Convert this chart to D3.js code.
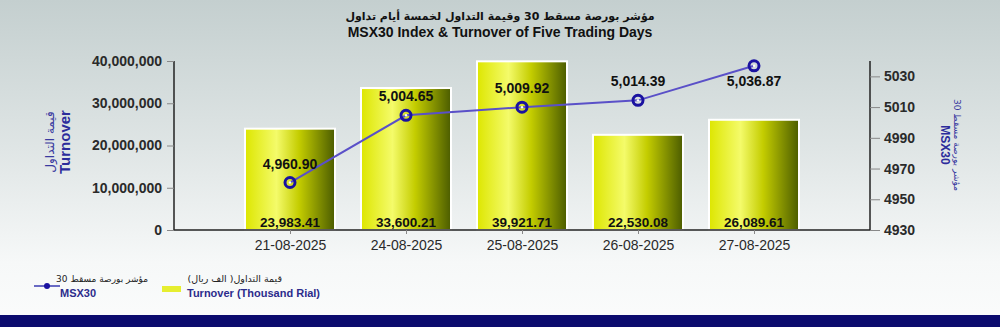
<!DOCTYPE html>
<html>
<head>
<meta charset="utf-8">
<script src="https://cdnjs.cloudflare.com/ajax/libs/d3/7.9.0/d3.min.js"></script>
<style>
  body { margin: 0; }
  svg { display: block; font-family: "Liberation Sans", Arial, sans-serif; }
</style>
</head>
<body>
<script>
// data
const dates = ["21-08-2025", "24-08-2025", "25-08-2025", "26-08-2025", "27-08-2025"];
const turnover = [23983.41, 33600.21, 39921.71, 22530.08, 26089.61]; // thousand rial
const msx30 = [4960.90, 5004.65, 5009.92, 5014.39, 5036.87];
const leftTicks = [0, 10000000, 20000000, 30000000, 40000000];
const rightTicks = [4930, 4950, 4970, 4990, 5010, 5030];

const width = 1000, height = 327;
const plot = { left: 174, right: 870, top: 61, bottom: 230 };

const svg = d3.select("body").append("svg")
  .attr("width", width).attr("height", height);

const defs = svg.append("defs");
const bg = defs.append("linearGradient").attr("id", "bg")
  .attr("x1", 0).attr("y1", 0).attr("x2", 0).attr("y2", 1);
bg.append("stop").attr("offset", "0%").attr("stop-color", "#c4cfcf");
bg.append("stop").attr("offset", "45%").attr("stop-color", "#dfe5e5");
bg.append("stop").attr("offset", "80%").attr("stop-color", "#f6f8f8");
bg.append("stop").attr("offset", "100%").attr("stop-color", "#fbfcfc");

const barGrad = defs.append("linearGradient").attr("id", "bar")
  .attr("x1", 0).attr("y1", 0).attr("x2", 1).attr("y2", 0);
barGrad.append("stop").attr("offset", "0%").attr("stop-color", "#dde600");
barGrad.append("stop").attr("offset", "35%").attr("stop-color", "#f4fb6a");
barGrad.append("stop").attr("offset", "60%").attr("stop-color", "#c4cd00");
barGrad.append("stop").attr("offset", "100%").attr("stop-color", "#4b5c00");

svg.append("rect").attr("width", width).attr("height", height).attr("fill", "url(#bg)");
svg.append("rect").attr("x", 0).attr("y", 315).attr("width", width).attr("height", 12)
  .attr("fill", "#0b0b6e");

// title
svg.append("text").attr("x", 500).attr("y", 20).attr("text-anchor", "middle")
  .attr("font-size", 11).attr("font-weight", "bold").attr("fill", "#111")
  .attr("font-family", "'DejaVu Sans', sans-serif")
  .text("مؤشر بورصة مسقط 30 وقيمة التداول لخمسة أيام تداول");
svg.append("text").attr("x", 500).attr("y", 37).attr("text-anchor", "middle")
  .attr("font-size", 14).attr("font-weight", "bold").attr("fill", "#111")
  .text("MSX30 Index & Turnover of Five Trading Days");

// scales
const x = d3.scalePoint().domain(dates).range([plot.left, plot.right]).padding(1);
const yL = d3.scaleLinear().domain([0, 40000000]).range([plot.bottom, plot.top]);
const yR = d3.scaleLinear().domain([4930, 5040]).range([plot.bottom, plot.top]);
const barW = 90;

// bars
svg.append("g").selectAll("rect").data(turnover).join("rect")
  .attr("x", (d, i) => x(dates[i]) - barW / 2)
  .attr("y", d => yL(d * 1000))
  .attr("width", barW)
  .attr("height", d => plot.bottom - yL(d * 1000))
  .attr("fill", "url(#bar)")
  .attr("stroke", "#ffffff").attr("stroke-width", 2);

svg.append("g").selectAll("text").data(turnover).join("text")
  .attr("x", (d, i) => x(dates[i]))
  .attr("y", plot.bottom - 3)
  .attr("text-anchor", "middle").attr("font-size", 13.5).attr("font-weight", "bold")
  .attr("fill", "#111")
  .text(d => d3.format(",.2f")(d));

// axes
const leftAxis = d3.axisLeft(yL).tickValues(leftTicks).tickFormat(d3.format(",")).tickSize(7).tickPadding(5);
const gl = svg.append("g").attr("transform", `translate(${plot.left},0)`).call(leftAxis);
const rightAxis = d3.axisRight(yR).tickValues(rightTicks).tickFormat(d3.format("d")).tickSize(10).tickPadding(4);
const gr = svg.append("g").attr("transform", `translate(${plot.right},0)`).call(rightAxis);
const gx = svg.append("g").attr("transform", `translate(0,${plot.bottom})`)
  .call(d3.axisBottom(x).tickSize(4).tickPadding(6));
gx.select(".domain").attr("d", `M${plot.left},0H${plot.right}`);

[gl, gr, gx].forEach(g => {
  g.select(".domain").attr("stroke", "#222").attr("stroke-width", 1.5);
  g.selectAll(".tick line").attr("stroke", "#888");
  g.selectAll(".tick text").attr("font-size", 14).attr("font-weight", "bold")
    .attr("fill", "#2a2a2a").attr("font-family", "'Liberation Sans', Arial, sans-serif");
});
gl.select(".domain").attr("d", `M0,${plot.top}V${plot.bottom}`);
gr.select(".domain").attr("d", `M0,${plot.top}V${plot.bottom}`);
gx.selectAll(".tick text").attr("font-weight", "normal").attr("font-size", 14);

// index line
const line = d3.line().x((d, i) => x(dates[i])).y(d => yR(d));
svg.append("path").datum(msx30).attr("d", line)
  .attr("fill", "none").attr("stroke", "#5a50c8").attr("stroke-width", 2);
const pts = svg.append("g").selectAll("g").data(msx30).join("g")
  .attr("transform", (d, i) => `translate(${x(dates[i])},${yR(d)})`);
pts.append("circle").attr("r", 5).attr("fill", "none").attr("stroke", "#1a12a0").attr("stroke-width", 3);
pts.append("circle").attr("r", 1.2).attr("fill", "#ffffff");
pts.append("text")
  .attr("y", d => (yR(d) - 30 < plot.top ? 20 : -14))
  .attr("text-anchor", "middle").attr("font-size", 14).attr("font-weight", "bold")
  .attr("fill", "#111")
  .text(d => d3.format(",.2f")(d));

// axis titles
const lt = svg.append("g").attr("transform", "translate(57,142) rotate(-90)");
lt.append("text").attr("text-anchor", "middle").attr("font-size", 12).attr("fill", "#3a3aa0")
  .attr("font-family", "'DejaVu Sans', sans-serif").attr("y", -3).text("قيمة التداول");
lt.append("text").attr("text-anchor", "middle").attr("font-size", 15).attr("font-weight", "bold")
  .attr("fill", "#2c2c9c").attr("y", 13).text("Turnover");

const rt = svg.append("g").attr("transform", "translate(950,145) rotate(90)");
rt.append("text").attr("text-anchor", "middle").attr("font-size", 9).attr("fill", "#3a3aa0")
  .attr("font-family", "'DejaVu Sans', sans-serif").attr("y", -4).text("مؤشر بورصة مسقط 30");
rt.append("text").attr("text-anchor", "middle").attr("font-size", 12).attr("font-weight", "bold")
  .attr("fill", "#2c2c9c").attr("y", 9).text("MSX30");

// legend
const lg = svg.append("g");
lg.append("line").attr("x1", 34).attr("x2", 60).attr("y1", 286).attr("y2", 286)
  .attr("stroke", "#3a3ab0").attr("stroke-width", 1.5);
lg.append("circle").attr("cx", 47).attr("cy", 286).attr("r", 3).attr("fill", "#1a12a0");
lg.append("text").attr("x", 148).attr("y", 282).attr("text-anchor", "end").attr("font-size", 9)
  .attr("font-family", "'DejaVu Sans', sans-serif").attr("fill", "#222").text("مؤشر بورصة مسقط 30");
lg.append("text").attr("x", 60).attr("y", 297).attr("font-size", 11).attr("font-weight", "bold")
  .attr("fill", "#2c2c8c").text("MSX30");
lg.append("rect").attr("x", 162).attr("y", 286).attr("width", 19).attr("height", 6).attr("fill", "#e6ee30");
lg.append("text").attr("x", 282).attr("y", 282).attr("text-anchor", "end").attr("font-size", 9.5)
  .attr("font-family", "'DejaVu Sans', sans-serif").attr("fill", "#222").text("قيمة التداول( الف ريال)");
lg.append("text").attr("x", 187).attr("y", 297).attr("font-size", 11).attr("font-weight", "bold")
  .attr("fill", "#2c2c8c").text("Turnover (Thousand Rial)");
</script>
</body>
</html>
